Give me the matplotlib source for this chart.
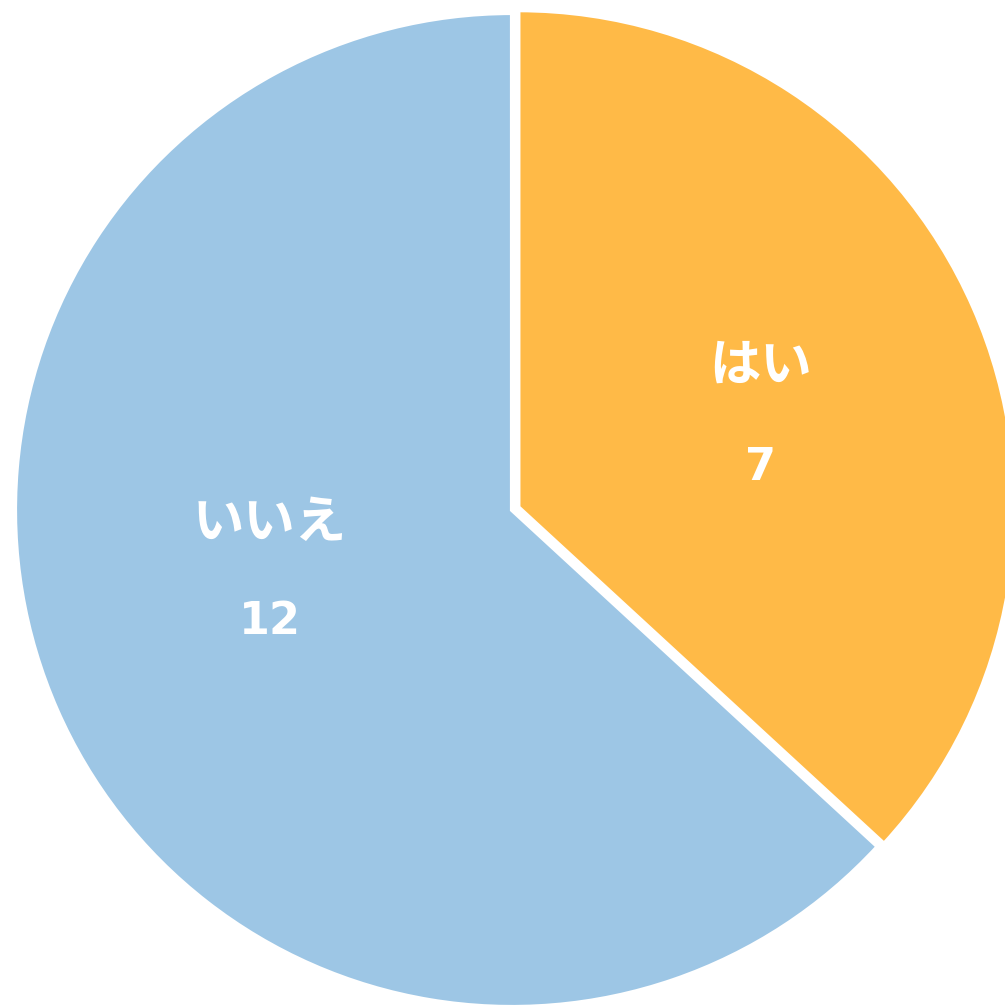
import matplotlib
matplotlib.use("Agg")
import matplotlib.pyplot as plt

plt.rcParams['font.family'] = ['Noto Sans CJK JP', 'DejaVu Sans']

labels = ["はい", "いいえ"]
values = [7, 12]
colors = ["#FFBA47", "#9DC6E5"]
explode = [0.014, 0.0]

W, H = 1005, 1006
fig = plt.figure(figsize=(W / 100, H / 100), dpi=100)
ax = fig.add_axes([0, 0, 1, 1])

cx, cy, R = 512, 510, 497  # pixel centre and radius
wedges, _ = ax.pie(values, colors=colors, startangle=90, counterclock=False,
                   explode=explode, radius=1.0,
                   wedgeprops=dict(edgecolor="white", linewidth=3))

ax.set_xlim(-cx / R, (W - cx) / R)
ax.set_ylim(-(H - cy) / R, cy / R)
ax.set_aspect("auto")
ax.axis("off")

def px(x, y):
    return (x - cx) / R, (cy - y) / R

label_pos = [((761, 365), (760, 468)), ((270, 522), (270, 622))]
for lab, val, (p1, p2) in zip(labels, values, label_pos):
    ax.text(*px(*p1), lab, ha="center", va="center", color="white",
            fontsize=37, fontweight="bold")
    ax.text(*px(*p2), str(val), ha="center", va="center", color="white",
            fontsize=32, fontweight="bold", family="DejaVu Sans")

fig.savefig("out.png", dpi=100, facecolor="white")
